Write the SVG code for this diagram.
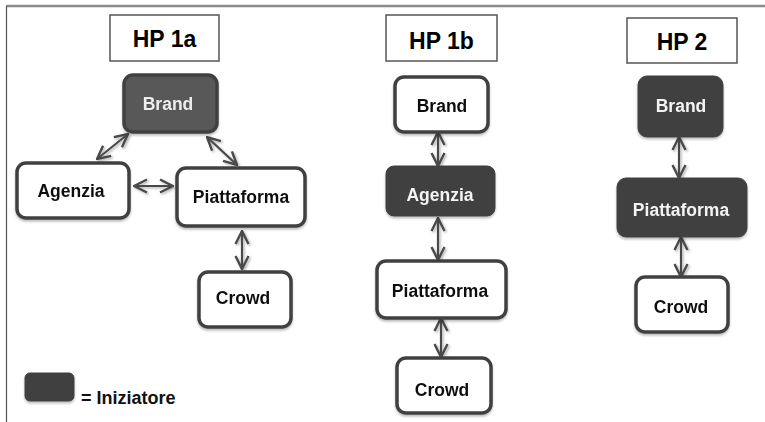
<svg xmlns="http://www.w3.org/2000/svg" width="765" height="422" viewBox="0 0 765 422">
<style>
text{font-family:"Liberation Sans",Arial,sans-serif;font-weight:bold;text-anchor:middle}
.title rect{fill:#fff;stroke:#555;stroke-width:1.5}
.title text{font-size:23px;fill:#000}
.light rect{fill:#fff;stroke:#404040;stroke-width:3.5}
.light text{font-size:17.5px;fill:#111}
.dark rect{fill:#404040;stroke:#404040;stroke-width:1}
.dark text{font-size:17.5px;fill:#f4f4f4}
.mid rect{fill:#595959;stroke:#404040;stroke-width:3.5}
.mid text{font-size:17.5px;fill:#eee}
.conn path{fill:none;stroke:#4a4a4a;stroke-width:2.2;marker-start:url(#h);marker-end:url(#h)}
</style>
<defs>
<filter id="sh" x="-20%" y="-20%" width="140%" height="150%">
<feDropShadow dx="0" dy="2" stdDeviation="1.2" flood-color="#000" flood-opacity="0.25"/>
</filter>
<filter id="ash" x="-50%" y="-50%" width="200%" height="200%">
<feDropShadow dx="1.5" dy="1.5" stdDeviation="0.8" flood-color="#000" flood-opacity="0.3"/>
</filter>
<marker id="h" viewBox="0 0 16 16" refX="15" refY="8" markerWidth="16" markerHeight="16" markerUnits="userSpaceOnUse" orient="auto-start-reverse">
<path d="M2,1.5 L15,8 L2,14.5" fill="none" stroke="#4a4a4a" stroke-width="2.4"/>
</marker>
</defs>
<rect width="765" height="422" fill="#fff"/>
<g id="frame">
<line x1="6" y1="6" x2="765" y2="6" stroke="#8c8c8c" stroke-width="2.5"/>
<line x1="6.5" y1="6" x2="6.5" y2="422" stroke="#555" stroke-width="1.2"/>
</g>
<g id="title-1a" class="title"><rect x="110" y="15" width="109" height="46"/><text x="164.5" y="46.5">HP 1a</text></g>
<g id="title-1b" class="title"><rect x="386" y="15" width="111" height="46"/><text x="441.5" y="49">HP 1b</text></g>
<g id="title-2" class="title"><rect x="627" y="18" width="110" height="45"/><text x="682" y="49.5">HP 2</text></g>
<g class="conn" filter="url(#ash)">
<path d="M97,159 L128,134"/>
<path d="M207,137 L237,165"/>
<path d="M134,186 L173,186"/>
<path d="M242,231 L242,269"/>
<path d="M438,132 L438,166"/>
<path d="M438,218 L438,260"/>
<path d="M441,318 L441,357"/>
<path d="M679,137 L679,178"/>
<path d="M681,237 L681,277"/>
</g>
<g filter="url(#sh)">
<g id="a-brand" class="mid"><rect x="124" y="75" width="93" height="57" rx="9"/><text x="168" y="110">Brand</text></g>
<g id="a-agenzia" class="light"><rect x="17" y="163" width="112" height="55" rx="9"/><text x="71" y="196.5">Agenzia</text></g>
<g id="a-piattaforma" class="light"><rect x="177" y="168" width="128" height="58" rx="9"/><text x="241" y="203">Piattaforma</text></g>
<g id="a-crowd" class="light"><rect x="199" y="272" width="92" height="55" rx="9"/><text x="243" y="304">Crowd</text></g>
<g id="b-brand" class="light"><rect x="395" y="77" width="93" height="55" rx="9"/><text x="442" y="112">Brand</text></g>
<g id="b-agenzia" class="dark"><rect x="386" y="166" width="109" height="50" rx="8"/><text x="440" y="201">Agenzia</text></g>
<g id="b-piattaforma" class="light"><rect x="377" y="261" width="129" height="57" rx="9"/><text x="440" y="296.5">Piattaforma</text></g>
<g id="b-crowd" class="light"><rect x="397" y="358" width="94" height="55" rx="9"/><text x="442" y="396">Crowd</text></g>
<g id="c-brand" class="dark"><rect x="638" y="76" width="85" height="61" rx="9"/><text x="681" y="112">Brand</text></g>
<g id="c-piattaforma" class="dark"><rect x="617" y="178" width="130" height="59" rx="9"/><text x="681" y="215.5">Piattaforma</text></g>
<g id="c-crowd" class="light"><rect x="636" y="277" width="92" height="55" rx="9"/><text x="681" y="313">Crowd</text></g>
<g id="legend-swatch" class="dark"><rect x="25" y="373" width="49" height="28" rx="5"/></g>
</g>
<g id="legend-text"><text x="81" y="404" style="text-anchor:start;font-size:18px;fill:#111">= Iniziatore</text></g>
</svg>
